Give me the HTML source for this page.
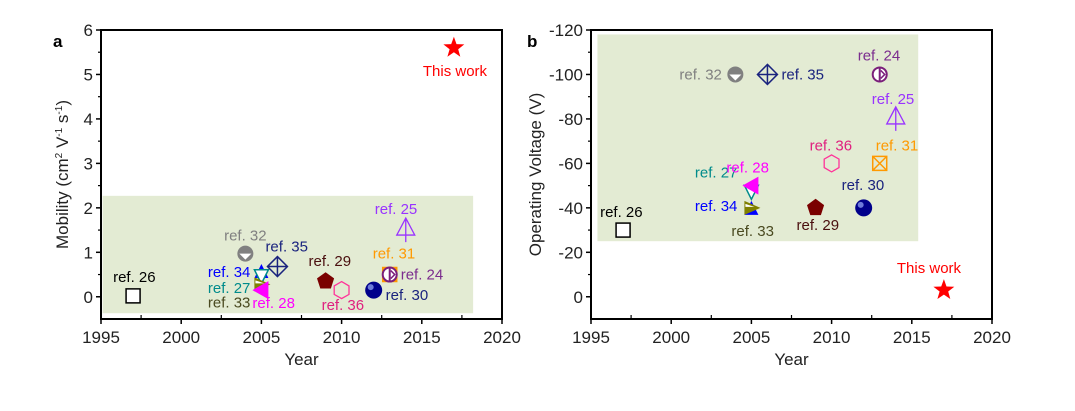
<!DOCTYPE html>
<html><head><meta charset="utf-8"><style>
body{margin:0;background:#fff;}
svg{display:block;font-family:"Liberation Sans",Arial,sans-serif;}
</style></head><body>
<svg id="chart" width="1075" height="411" viewBox="0 0 1075 411" xmlns="http://www.w3.org/2000/svg"></svg>
<script>
const refs = ["ref. 26","ref. 32","ref. 35","ref. 34","ref. 27","ref. 33","ref. 28","ref. 29","ref. 36","ref. 30","ref. 31","ref. 24","ref. 25","This work"];
const years = [1997,2004,2006,2005,2005,2005,2005,2009,2010,2012,2013,2013,2014,2017];
const mobility = [0.02,0.97,0.68,0.58,0.45,0.28,0.15,0.35,0.15,0.15,0.5,0.5,1.5,5.6];
const voltage = [-30,-100,-100,-40,-47,-40,-50,-40,-60,-40,-60,-100,-80,-3];
const xTicks = [1995,2000,2005,2010,2015,2020];
const mobTicks = [0,1,2,3,4,5,6];
const voltTicks = [0,-20,-40,-60,-80,-100,-120];

const shapes = ["square","halfcircle","diamondx","triup","tridown","triright","trileft","pentagon","hexagon","sphere","squarex","halfcircle2","triline","star"];
const colors = ["#000","#808080","#1a237e","#0000ff","#008b8b","#808000","#ff00ff","#7a0000","#ff3399","#00008b","#ff9900","#7b1f7b","#9933ff","#ff0000"];
const textColors = ["#000","#808080","#1a237e","#0000ff","#008b8b","#4a4a20","#ff00ff","#4a0f0f","#e0207f","#1a237e","#ff9900","#7b2d8e","#9933ff","#ff0000"];
// label placement [dx, dy, anchor] per panel
const labA = [[-20,-14,"start"],[0,-13,"middle"],[-12,-15,"start"],[-11,6,"end"],[-11,16,"end"],[-11,23,"end"],[-9,18,"start"],[-17,-15,"start"],[-20,20,"start"],[12,10,"start"],[-17,-16,"start"],[11,5,"start"],[-31,-16,"start"],[-31,28,"start"]];
const labB = [[-23,-13,"start"],[-56,5,"start"],[14,5,"start"],[-14,3,"end"],[-14,-15,"end"],[-20,28,"start"],[-25,-13,"start"],[-19,22,"start"],[-22,-13,"start"],[-22,-18,"start"],[-4,-13,"start"],[-22,-14,"start"],[-24,-15,"start"],[-47,-17,"start"]];

const NS="http://www.w3.org/2000/svg";
const svg=document.getElementById('chart');
function el(tag,attrs,parent){const e=document.createElementNS(NS,tag);for(const k in attrs)e.setAttribute(k,attrs[k]);(parent||svg).appendChild(e);return e;}

function marker(g,shape,cx,cy,c){
  const s=7;
  if(shape==="square") el('rect',{x:cx-7,y:cy-7,width:14,height:14,fill:'#fff',stroke:c,'stroke-width':1.5},g);
  else if(shape==="halfcircle"){el('circle',{cx,cy,r:8,fill:c},g);el('path',{d:`M${cx-6},${cy} L${cx+6},${cy} L${cx},${cy+6} Z`,fill:'#fff'},g);}
  else if(shape==="halfcircle2"){el('circle',{cx,cy,r:7,fill:'#fff',stroke:c,'stroke-width':2},g);el('line',{x1:cx,y1:cy-7,x2:cx,y2:cy+7,stroke:c,'stroke-width':2},g);el('path',{d:`M${cx+1},${cy-4} L${cx+5},${cy} L${cx+1},${cy+4}`,fill:'none',stroke:c,'stroke-width':1.5},g);}
  else if(shape==="diamondx"){el('path',{d:`M${cx},${cy-10} L${cx+10},${cy} L${cx},${cy+10} L${cx-10},${cy} Z M${cx},${cy-10} L${cx},${cy+10} M${cx-10},${cy} L${cx+10},${cy}`,fill:'none',stroke:c,'stroke-width':1.5},g);}
  else if(shape==="triup") el('path',{d:`M${cx},${cy-s} L${cx+s},${cy+s} L${cx-s},${cy+s} Z`,fill:c},g);
  else if(shape==="tridown") el('path',{d:`M${cx-s},${cy-s} L${cx+s},${cy-s} L${cx},${cy+s} Z`,fill:'#fff',stroke:c,'stroke-width':1.5},g);
  else if(shape==="triright"){el('path',{d:`M${cx-s},${cy-s} L${cx+s+2},${cy} L${cx-s},${cy+s} Z`,fill:c},g);el('path',{d:`M${cx-s+1},${cy-s+3} L${cx+3},${cy-1} L${cx-s+1},${cy-1} Z`,fill:'#fff'},g);}
  else if(shape==="trileft") el('path',{d:`M${cx+s},${cy-s-2} L${cx-s-2},${cy} L${cx+s},${cy+s+2} Z`,fill:c},g);
  else if(shape==="pentagon"){let p=[];for(let i=0;i<5;i++){const a=-Math.PI/2+i*2*Math.PI/5;p.push((cx+9*Math.cos(a)).toFixed(1)+","+(cy+9*Math.sin(a)).toFixed(1));}el('polygon',{points:p.join(' '),fill:c},g);}
  else if(shape==="hexagon"){let p=[];for(let i=0;i<6;i++){const a=-Math.PI/2+i*Math.PI/3;p.push((cx+8.5*Math.cos(a)).toFixed(1)+","+(cy+8.5*Math.sin(a)).toFixed(1));}el('polygon',{points:p.join(' '),fill:'none',stroke:c,'stroke-width':1.3},g);}
  else if(shape==="sphere"){el('circle',{cx,cy,r:8.5,fill:c},g);el('circle',{cx:cx-3,cy:cy-3,r:3,fill:'#8899ee',opacity:0.8},g);}
  else if(shape==="squarex") el('path',{d:`M${cx-7},${cy-7} h14 v14 h-14 Z M${cx-7},${cy-7} L${cx+7},${cy+7} M${cx+7},${cy-7} L${cx-7},${cy+7}`,fill:'none',stroke:c,'stroke-width':1.5},g);
  else if(shape==="triline") el('path',{d:`M${cx},${cy-12} L${cx+9},${cy+5} L${cx-9},${cy+5} Z M${cx},${cy-12} L${cx},${cy+12}`,fill:'none',stroke:c,'stroke-width':1.3},g);
  else if(shape==="star"){let p=[];for(let i=0;i<10;i++){const a=-Math.PI/2+i*Math.PI/5,r=i%2?4.5:11;p.push((cx+r*Math.cos(a)).toFixed(1)+","+(cy+r*Math.sin(a)).toFixed(1));}el('polygon',{points:p.join(' '),fill:c},g);}
}

function panel(opt){
  const {L,R,T,B,ymin,ymax,yTicks,yvals,labs,box,panelName,letter,ytitle,yMinorStep}=opt;
  const g=el('g',{});  
  const X=v=>L+(v-1995)/25*(R-L);
  const Y=v=>B-(v-ymin)/(ymax-ymin)*(B-T);
  const bx=el('rect',{x:X(box[0]),y:Y(box[3]),width:X(box[1])-X(box[0]),height:Y(box[2])-Y(box[3]),fill:'#e3ebd3'},g);
   
  el('rect',{x:L,y:T,width:R-L,height:B-T,fill:'none',stroke:'#000','stroke-width':2},g);
  xTicks.forEach((t,i)=>{
    const x=X(t);
    el('line',{x1:x,y1:B,x2:x,y2:B+5,stroke:'#000','stroke-width':1.5},g);
    if(i<xTicks.length-1){const xm=X(t+2.5);el('line',{x1:xm,y1:B,x2:xm,y2:B-4,stroke:'#000','stroke-width':1.2},g);}
    const tx=el('text',{x,y:B+24,'text-anchor':'middle','font-size':17,fill:'#222'},g);tx.textContent=t;
     
  });
  yTicks.forEach(t=>{
    const y=Y(t);
    el('line',{x1:L-5,y1:y,x2:L,y2:y,stroke:'#000','stroke-width':1.5},g);
    const ym=Y(t+yMinorStep); if(ym>=T-1&&ym<=B) el('line',{x1:L-3,y1:ym,x2:L,y2:ym,stroke:'#000','stroke-width':1.2},g);
    const ty=el('text',{x:L-8,y:y+6,'text-anchor':'end','font-size':17,fill:'#222'},g);ty.textContent=t;
     
  });
  const lt=el('text',{x:letter[0],y:letter[1],'font-size':17,'font-weight':'bold'},g);lt.textContent=letter[2];
   
  const xt=el('text',{x:(L+R)/2,y:B+46,'text-anchor':'middle','font-size':17,fill:'#222'},g);xt.textContent='Year';
   
  const yt=el('text',{x:0,y:0,'text-anchor':'middle','font-size':17,fill:'#222',transform:`translate(${ytitle[0]},${(T+B)/2}) rotate(-90)`},g);
  yt.innerHTML=ytitle[1];
   
  years.forEach((yr,i)=>{
    const cx=X(yr),cy=Y(yvals[i]);
    const mg=el('g',{},g);
    
    
    marker(mg,shapes[i],cx,cy,colors[i]);
    const lb=labs[i];
    const t=el('text',{x:cx+lb[0],y:cy+lb[1],'text-anchor':lb[2],'font-size':15,fill:textColors[i]},mg);t.textContent=refs[i];
     
  });
}

panel({L:101,R:502,T:30,B:319,ymin:-0.5,ymax:6,yTicks:mobTicks,yvals:mobility,labs:labA,box:[1995.1,2018.2,-0.37,2.27],panelName:'mobility-panel',letter:[53,47,'a'],ytitle:[68,'Mobility  (cm<tspan font-size="10" dy="-6">2</tspan><tspan dy="6"> V</tspan><tspan font-size="10" dy="-6">-1</tspan><tspan dy="6"> s</tspan><tspan font-size="10" dy="-6">-1</tspan><tspan dy="6">)</tspan>'],yMinorStep:0.5});
panel({L:591,R:992,T:30,B:319,ymin:10,ymax:-120,yTicks:voltTicks,yvals:voltage,labs:labB,box:[1995.4,2015.4,-25,-118],panelName:'voltage-panel',letter:[527,47,'b'],ytitle:[541,'Operating Voltage  (V)'],yMinorStep:-10});
</script>
</body></html>
